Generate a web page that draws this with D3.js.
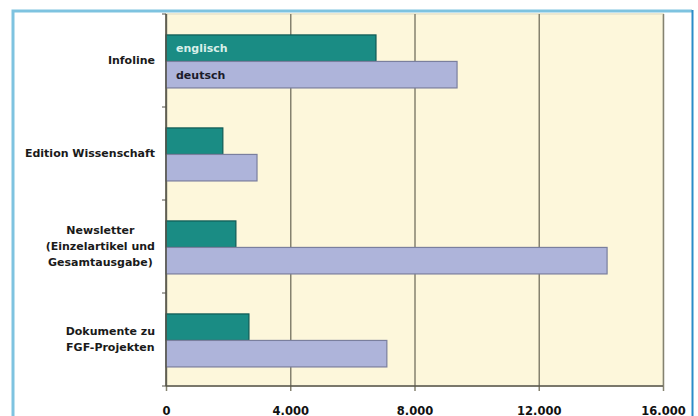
<!DOCTYPE html>
<html>
<head>
<meta charset="utf-8">
<script src="https://cdn.jsdelivr.net/npm/d3@7"></script>
<style>
  body { margin: 0; background: #fff; }
  svg { display: block; font-family: "DejaVu Sans", sans-serif; }
</style>
</head>
<body>
<svg width="698" height="416"></svg>
<script>
const categories = ["Infoline", "Edition Wissenschaft", "Newsletter (Einzelartikel und Gesamtausgabe)", "Dokumente zu FGF-Projekten"]
const categoryLines = [["Infoline"], ["Edition Wissenschaft"], ["Newsletter", "(Einzelartikel und", "Gesamtausgabe)"], ["Dokumente zu", "FGF-Projekten"]]
const series = ["englisch", "deutsch"]
const englisch = [6760, 1830, 2250, 2670]
const deutsch = [9370, 2930, 14200, 7110]
const xTicks = [0, 4000, 8000, 12000, 16000]

const svg = d3.select("svg")
const width = +svg.attr("width")
const height = +svg.attr("height")

const margin = {top: 14, right: 35, bottom: 30, left: 166}
const innerWidth = width - margin.left - margin.right
const innerHeight = height - margin.top - margin.bottom

const colors = {englisch: "#1a8c84", deutsch: "#aeb4da"}
const strokes = {englisch: "#0f5a55", deutsch: "#7a7f9e"}

// frame
svg.append("path")
  .attr("d", `M13,${height} V11 H692`)
  .attr("fill", "none")
  .attr("stroke", "#7ec3e0")
  .attr("stroke-width", 3)
svg.append("line")
  .attr("x1", 692.5).attr("x2", 692.5)
  .attr("y1", 10).attr("y2", height)
  .attr("stroke", "#2a8cc8")
  .attr("stroke-width", 2)

const g = svg.append("g")
  .attr("transform", `translate(${margin.left}, ${margin.top})`)

const xScale = d3.scaleLinear()
  .domain([0, 16000])
  .range([0, innerWidth])

const yScale = d3.scaleBand()
  .domain(categories)
  .range([0, innerHeight])

const sub = d3.scaleBand()
  .domain(series)
  .range([yScale.bandwidth() * 0.225, yScale.bandwidth() * 0.795])

g.append("rect")
  .attr("width", innerWidth)
  .attr("height", innerHeight)
  .attr("fill", "#fdf7db")
  .attr("stroke", "#ece8d0")
  .attr("stroke-width", 2)

const fmt = d => d3.format(",")(d).replace(/,/g, ".")

const xAxis = d3.axisBottom(xScale)
  .tickValues(xTicks)
  .tickSize(-innerHeight)
  .tickPadding(21)
  .tickFormat(fmt)

const xAxisG = g.append("g")
  .attr("transform", `translate(0, ${innerHeight})`)
  .call(xAxis)
xAxisG.select(".domain").remove()
xAxisG.selectAll(".tick line")
  .attr("stroke", "#85826f")
  .attr("stroke-width", 1.5)
  .attr("y2", 5)
  .attr("y1", -innerHeight)
xAxisG.selectAll(".tick text")
  .attr("font-size", 11.5)
  .attr("font-weight", "bold")
  .attr("fill", "#111")
  .attr("font-family", "'DejaVu Sans', sans-serif")

const rows = categories.map((c, i) => ({cat: c, englisch: englisch[i], deutsch: deutsch[i]}))

const groups = g.selectAll(".grp").data(rows)
  .enter().append("g")
  .attr("class", "grp")
  .attr("transform", d => `translate(0, ${yScale(d.cat)})`)

series.forEach(s => {
  groups.append("rect")
    .attr("x", 0)
    .attr("y", sub(s))
    .attr("width", d => xScale(d[s]))
    .attr("height", sub.bandwidth())
    .attr("fill", colors[s])
    .attr("stroke", strokes[s])
    .attr("stroke-width", 1.2)
})

// series labels inside the first bars
g.selectAll(".series-label").data(series)
  .enter().append("text")
  .attr("x", 10)
  .attr("y", s => yScale(categories[0]) + sub(s) + sub.bandwidth() / 2)
  .attr("dy", "0.35em")
  .attr("font-size", 11)
  .attr("font-weight", "bold")
  .attr("fill", s => s === "englisch" ? "#d8efe9" : "#1b1b2a")
  .text(s => s)

// y axis
const yAxisG = g.append("g")
yAxisG.append("line")
  .attr("x1", 0).attr("x2", 0)
  .attr("y1", 0).attr("y2", innerHeight)
  .attr("stroke", "#55534a")
  .attr("stroke-width", 1.5)
yAxisG.append("line")
  .attr("x1", 0).attr("x2", innerWidth)
  .attr("y1", innerHeight).attr("y2", innerHeight)
  .attr("stroke", "#55534a")
  .attr("stroke-width", 1.5)
yAxisG.selectAll(".ytick").data(categories.concat(["end"]))
  .enter().append("line")
  .attr("x1", -4).attr("x2", 0)
  .attr("y1", (d, i) => i * yScale.step())
  .attr("y2", (d, i) => i * yScale.step())
  .attr("stroke", "#55534a")

const labels = g.selectAll(".cat-label").data(rows)
  .enter().append("text")
  .attr("class", "cat-label")
  .attr("font-size", 11)
  .attr("font-weight", "bold")
  .attr("fill", "#1a1a1a")
  .attr("text-anchor", "middle")

labels.each(function (d, i) {
  const lines = categoryLines[i]
  const lh = 16
  const cy = yScale(d.cat) + yScale.bandwidth() / 2
  const t = d3.select(this)
  lines.forEach((ln, j) => {
    t.append("tspan")
      .attr("x", 0)
      .attr("y", cy + (j - (lines.length - 1) / 2) * lh)
      .attr("dy", "0.35em")
      .text(ln)
  })
})
// lines centred on each other, block right edge near the axis
labels.each(function () {
  const w = this.getBBox().width
  d3.select(this).selectAll("tspan").attr("x", -11 - w / 2)
})
</script>
</body>
</html>
